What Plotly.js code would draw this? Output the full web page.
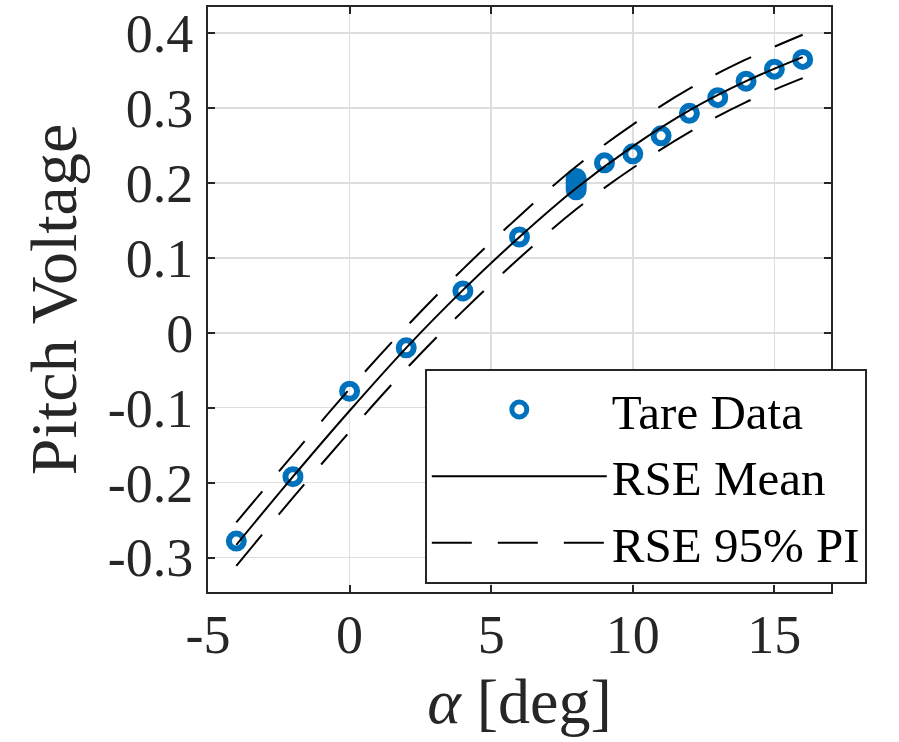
<!DOCTYPE html>
<html>
<head>
<meta charset="utf-8">
<script src="https://cdn.plot.ly/plotly-3.0.1.min.js"></script>
<style>html,body{margin:0;padding:0;background:#fff;}#chart{width:899px;height:742px;}</style>
</head>
<body>
<div id="chart"></div>
<script>
// Tare data (alpha in deg, pitch voltage)
var tareAlpha = [-4, -2, 0, 2, 4, 6, 8, 8, 8, 8, 8, 9, 10, 11, 12, 13, 14, 15, 16];
var tareVolt  = [-0.278, -0.192, -0.078, -0.020, 0.056, 0.128, 0.191, 0.195, 0.199, 0.203, 0.206, 0.227, 0.239, 0.263, 0.293, 0.314, 0.336, 0.352, 0.365];

// RSE mean curve and 95% prediction interval
var curveAlpha = [-4, -2, 0, 2, 4, 6, 8, 10, 12, 14, 16];
var rseMean    = [-0.283, -0.192, -0.104, -0.020, 0.057, 0.128, 0.193, 0.249, 0.297, 0.336, 0.368];
var rseUpper   = [-0.253, -0.163, -0.075, 0.008, 0.085, 0.156, 0.222, 0.278, 0.326, 0.365, 0.398];
var rseLower   = [-0.311, -0.220, -0.132, -0.048, 0.029, 0.100, 0.165, 0.220, 0.268, 0.308, 0.340];

var xTicks = [-5, 0, 5, 10, 15];
var xTickText = ['-5', '0', '5', '10', '15'];
var yTicks = [-0.3, -0.2, -0.1, 0, 0.1, 0.2, 0.3, 0.4];
var yTickText = ['-0.3', '-0.2', '-0.1', '0', '0.1', '0.2', '0.3', '0.4'];

var FONT = 'Liberation Serif, Times New Roman, serif';
var blue = '#0072BD';
var ink = '#262626';

var traces = [
  {
    x: tareAlpha, y: tareVolt, type: 'scatter', mode: 'markers', name: 'Tare Data',
    marker: {symbol: 'circle-open', size: 15, color: blue, line: {width: 6, color: blue}}
  },
  {
    x: curveAlpha, y: rseMean, type: 'scatter', mode: 'lines', name: 'RSE Mean',
    line: {color: '#000', width: 2, shape: 'spline'}
  },
  {
    x: curveAlpha, y: rseUpper, type: 'scatter', mode: 'lines', name: 'RSE 95% PI',
    legendgroup: 'pi', line: {color: '#000', width: 2, dash: '40px,26px', shape: 'spline'}
  },
  {
    x: curveAlpha, y: rseLower, type: 'scatter', mode: 'lines', name: 'RSE 95% PI',
    legendgroup: 'pi', showlegend: false,
    line: {color: '#000', width: 2, dash: '40px,26px', shape: 'spline'}
  }
];

var layout = {
  width: 899, height: 742,
  margin: {l: 208, r: 68, t: 7, b: 150},
  paper_bgcolor: '#fff', plot_bgcolor: '#fff',
  font: {family: FONT, size: 50, color: ink},
  showlegend: true,
  legend: {
    x: 0.348, y: 0.381, xanchor: 'left', yanchor: 'top',
    bgcolor: '#fff', bordercolor: ink, borderwidth: 2,
    font: {family: FONT, size: 49, color: '#000'},
    itemwidth: 175, tracegroupgap: 0
  },
  xaxis: {
    range: [-5, 17], tickvals: xTicks, ticktext: xTickText,
    showgrid: true, gridcolor: '#dedede', gridwidth: 1.5,
    zeroline: false, showline: true, linecolor: ink, linewidth: 2, mirror: 'ticks',
    ticks: 'inside', ticklen: 7, tickwidth: 2, tickcolor: ink,
    ticklabelstandoff: -6,
    tickfont: {family: FONT, size: 54, color: ink},
    title: {text: '<i>α</i> [deg]', font: {family: FONT, size: 64, color: ink}, standoff: 14}
  },
  yaxis: {
    range: [-0.346, 0.435], tickvals: yTicks, ticktext: yTickText,
    showgrid: true, gridcolor: '#dedede', gridwidth: 1.5,
    zeroline: false, showline: true, linecolor: ink, linewidth: 2, mirror: 'ticks',
    ticks: 'inside', ticklen: 7, tickwidth: 2, tickcolor: ink,
    ticklabelstandoff: 2,
    tickfont: {family: FONT, size: 54, color: ink},
    title: {text: 'Pitch Voltage', font: {family: FONT, size: 66, color: ink}, standoff: 10}
  }
};

Plotly.newPlot('chart', traces, layout, {displayModeBar: false, staticPlot: true});
</script>
</body>
</html>
